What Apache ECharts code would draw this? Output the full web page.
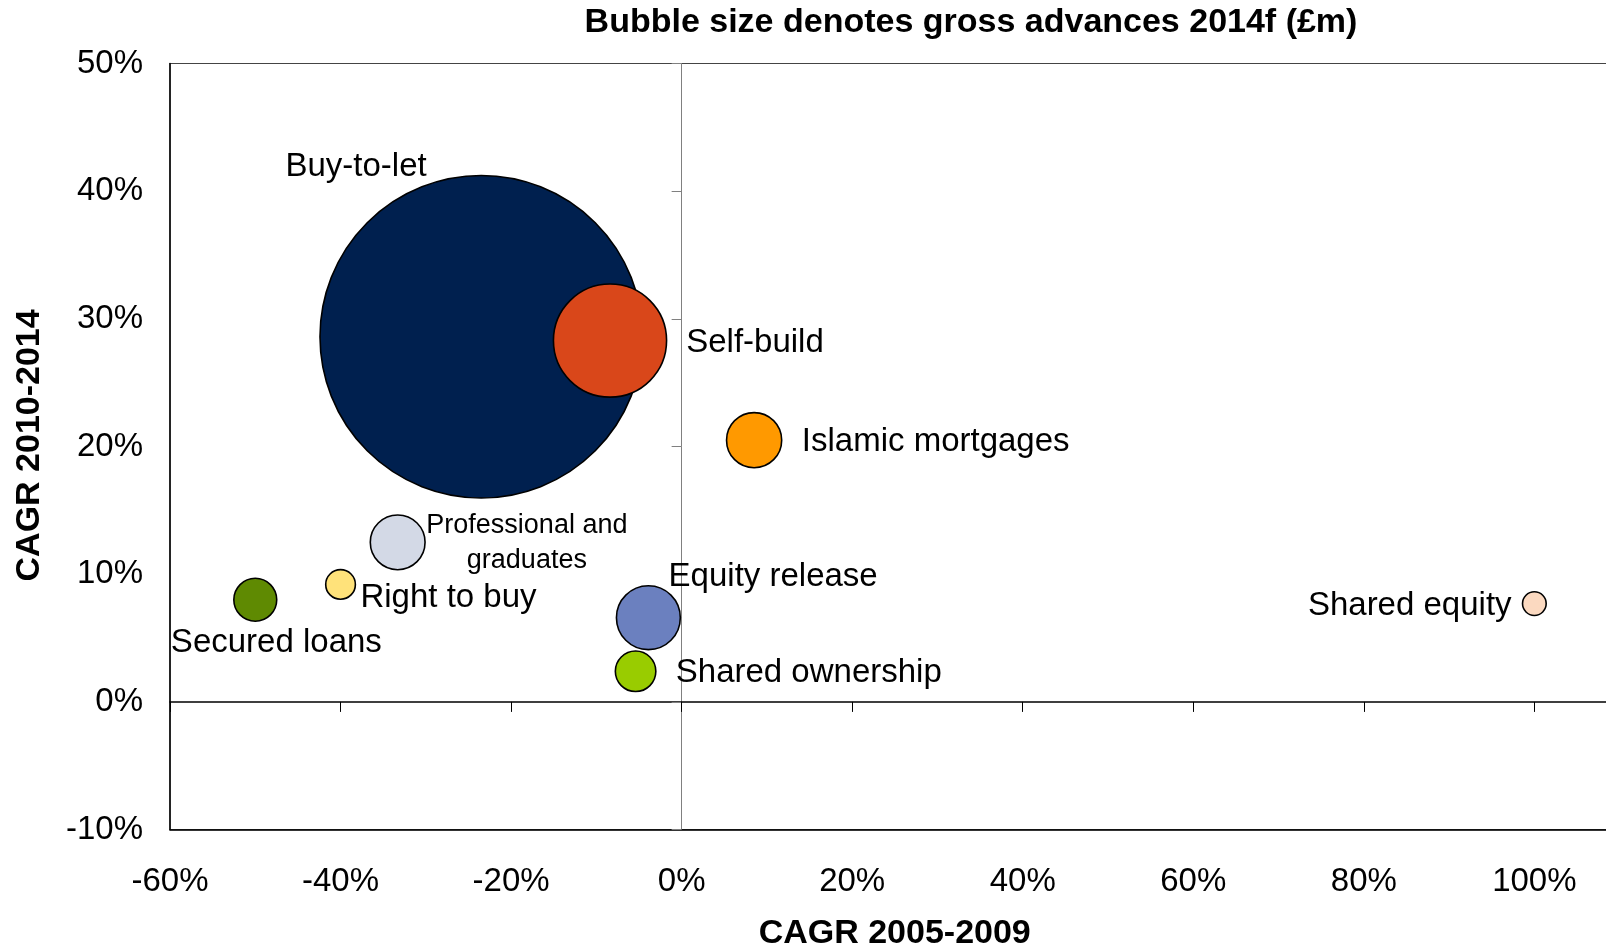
<!DOCTYPE html>
<html>
<head>
<meta charset="utf-8">
<script src="https://cdn.jsdelivr.net/npm/echarts@6/dist/echarts.min.js"></script>
<style>
html,body{margin:0;padding:0;background:#fff;}
#chart{width:1606px;height:950px;}
</style>
</head>
<body>
<div id="chart"></div>
<script>
// ---- data ----
const categories = ['Buy-to-let', 'Self-build', 'Islamic mortgages', 'Professional and\ngraduates', 'Right to buy', 'Secured loans', 'Equity release', 'Shared ownership', 'Shared equity'];
const cagr2005_2009 = [-23.5, -8.4, 8.5, -33.3, -40.0, -50.0, -3.9, -5.4, 100.0];
const cagr2010_2014 = [28.6, 28.3, 20.5, 12.5, 9.2, 8.0, 6.6, 2.4, 7.7];
const grossAdvances2014f = [26000, 3200, 760, 750, 220, 460, 1020, 410, 140];
const xTickValues = [-60, -40, -20, 0, 20, 40, 60, 80, 100, 120];
const yTickValues = [-10, 0, 10, 20, 30, 40, 50];
const chartTitle = 'Bubble size denotes gross advances 2014f (£m)';
const xAxisTitle = 'CAGR 2005-2009';
const yAxisTitle = 'CAGR 2010-2014';

// ---- styling (kept separate from data) ----
const colors = ['#00204F', '#D9471A', '#FF9900', '#D3D9E6', '#FFE27A', '#5F8A02', '#6B80BF', '#99CC00', '#FBD9C0'];
const labelLayout = [
  {align: 'left', offset: [-195, -169.5], size: 33},
  {align: 'left', offset: [77, 3], size: 33},
  {align: 'left', offset: [48.5, 2.5], size: 33},
  {align: 'center', offset: [130, 1.5], size: 27, lineHeight: 35},
  {align: 'left', offset: [20.7, 14.5], size: 33},
  {align: 'left', offset: [-83.6, 43.8], size: 33},
  {align: 'left', offset: [21, -40], size: 33},
  {align: 'left', offset: [41, 2.5], size: 33},
  {align: 'right', offset: [-22, 3.5], size: 33}
];
const FONT = '"Liberation Sans", Arial, sans-serif';
const bubbleDiameter = v => 2 * Math.sqrt(v);

const seriesData = categories.map((name, i) => {
  const half = bubbleDiameter(grossAdvances2014f[i]) / 2;
  const L = labelLayout[i];
  return {
    name: name,
    value: [cagr2005_2009[i], cagr2010_2014[i], grossAdvances2014f[i]],
    itemStyle: {color: colors[i], borderColor: '#000', borderWidth: 1.6, opacity: 1},
    label: {
      show: true,
      position: [half + L.offset[0], half + L.offset[1]],
      align: L.align,
      verticalAlign: 'middle',
      fontSize: L.size,
      lineHeight: L.lineHeight || Math.round(L.size * 1.15),
      fontFamily: FONT,
      color: '#000',
      formatter: '{b}'
    }
  };
});

const xMin = xTickValues[0], xMax = xTickValues[xTickValues.length - 1];
const yMin = yTickValues[0], yMax = yTickValues[yTickValues.length - 1];
const pct = v => v + '%';

const chart = echarts.init(document.getElementById('chart'));
chart.setOption({
  backgroundColor: '#fff',
  animation: false,
  grid: {left: 170, top: 63.5, bottom: 120.4, right: -98.9, containLabel: false, outerBoundsMode: 'none',
         show: true, borderColor: '#444', borderWidth: 1.2, backgroundColor: 'transparent'},
  xAxis: [
    {
      type: 'value', min: xMin, max: xMax, interval: 20, position: 'bottom',
      axisLine: {show: true, onZero: false, lineStyle: {color: '#000', width: 1.5}},
      axisTick: {show: false},
      splitLine: {show: false},
      axisLabel: {formatter: pct, fontSize: 33, fontFamily: FONT, color: '#000', margin: 36}
    },
    {
      type: 'value', min: xMin, max: xMax, interval: 20, position: 'bottom',
      axisLine: {show: true, onZero: true, onZeroAxisIndex: 0, lineStyle: {color: '#000', width: 1.5}},
      axisTick: {show: true, length: 10, inside: false, lineStyle: {color: '#000', width: 1}},
      splitLine: {show: false},
      axisLabel: {show: false}
    }
  ],
  yAxis: [
    {
      type: 'value', min: yMin, max: yMax, interval: 10, position: 'left',
      axisLine: {show: true, onZero: false, lineStyle: {color: '#000', width: 1.5}},
      axisTick: {show: false},
      splitLine: {show: false},
      axisLabel: {formatter: pct, fontSize: 33, fontFamily: FONT, color: '#000', margin: 27}
    },
    {
      type: 'value', min: yMin, max: yMax, interval: 10, position: 'left',
      axisLine: {show: true, onZero: true, onZeroAxisIndex: 0, lineStyle: {color: '#808080', width: 1}},
      axisTick: {show: true, length: 10, inside: false, lineStyle: {color: '#808080', width: 1}},
      splitLine: {show: false},
      axisLabel: {show: false}
    }
  ],
  graphic: [
    {type: 'text', x: 971, y: 22.5, silent: true,
     style: {text: chartTitle, font: 'bold 34px ' + FONT, fill: '#000', align: 'center', verticalAlign: 'middle', textAlign: 'center', textVerticalAlign: 'middle'}},
    {type: 'text', x: 894.7, y: 934, silent: true,
     style: {text: xAxisTitle, font: 'bold 34px ' + FONT, fill: '#000', align: 'center', verticalAlign: 'middle', textAlign: 'center', textVerticalAlign: 'middle'}},
    {type: 'text', x: 29.7, y: 445.4, rotation: Math.PI / 2, silent: true,
     style: {text: yAxisTitle, font: 'bold 34px ' + FONT, fill: '#000', align: 'center', verticalAlign: 'middle', textAlign: 'center', textVerticalAlign: 'middle'}}
  ],
  series: [{
    type: 'scatter',
    xAxisIndex: 0,
    yAxisIndex: 0,
    symbol: 'circle',
    symbolSize: v => bubbleDiameter(v[2]),
    data: seriesData,
    emphasis: {disabled: true}
  }]
});
</script>
</body>
</html>
